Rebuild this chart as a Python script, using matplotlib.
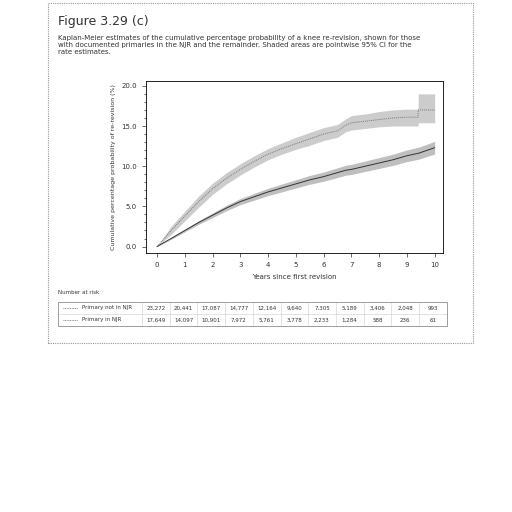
import matplotlib
matplotlib.use("Agg")
import matplotlib.pyplot as plt
from matplotlib.patches import Rectangle
import numpy as np

years = [0, 0.5, 1, 1.5, 2, 2.5, 3, 3.5, 4, 4.5, 5, 5.5, 6, 6.5, 6.8, 7, 7.5, 8, 8.5, 9, 9.4, 9.41, 10]
njr = [0, 2.0, 3.8, 5.6, 7.2, 8.5, 9.6, 10.6, 11.5, 12.2, 12.8, 13.4, 14.0, 14.4, 15.1, 15.4, 15.6, 15.8, 16.0, 16.1, 16.1, 17.0, 17.0]
njr_lo = [0, 1.5, 3.2, 4.9, 6.5, 7.8, 8.9, 9.9, 10.8, 11.5, 12.1, 12.6, 13.2, 13.6, 14.3, 14.5, 14.7, 14.9, 15.0, 15.0, 15.0, 15.4, 15.4]
njr_hi = [0, 2.5, 4.4, 6.3, 7.9, 9.2, 10.3, 11.3, 12.2, 12.9, 13.6, 14.2, 14.8, 15.2, 15.9, 16.3, 16.5, 16.8, 17.0, 17.1, 17.1, 19.0, 19.0]
other = [0, 1.0, 2.0, 3.0, 3.9, 4.8, 5.6, 6.2, 6.8, 7.3, 7.8, 8.3, 8.7, 9.2, 9.5, 9.6, 10.0, 10.4, 10.8, 11.3, 11.6, 11.6, 12.3]
other_lo = [v*0.94 - 0.05 for v in other]
other_hi = [v*1.06 + 0.05 for v in other]
other_lo[0] = other_hi[0] = 0

row_labels = ["Primary not in NJR", "Primary in NJR"]
risk_not = ["23,272", "20,441", "17,087", "14,777", "12,164", "9,640", "7,305", "5,189", "3,406", "2,048", "993"]
risk_in = ["17,649", "14,097", "10,901", "7,972", "5,761", "3,778", "2,233", "1,284", "588", "236", "61"]

W = H = 512
fig = plt.figure(figsize=(5.12, 5.12), dpi=100)
fig.patch.set_facecolor("white")
def px(x, y): return (x / W, 1 - y / H)

fig.patches.append(Rectangle(px(48, 343), 425/W, 340/H, transform=fig.transFigure,
                             fill=False, ec="#999999", lw=0.8, ls=(0, (1, 1))))
fig.text(*px(58, 22), "Figure 3.29 (c)", fontsize=9, color="#333333", va="center")
fig.text(*px(58, 45), "Kaplan-Meier estimates of the cumulative percentage probability of a knee re-revision, shown for those\n"
         "with documented primaries in the NJR and the remainder. Shaded areas are pointwise 95% CI for the\n"
         "rate estimates.", fontsize=5, color="#333333", va="center", linespacing=1.25)

ax = fig.add_axes([146/W, 1 - 253/H, 297/W, 172/H])
ax.fill_between(years, njr_lo, njr_hi, color="#c4c4c4", alpha=0.85, lw=0)
ax.fill_between(years, other_lo, other_hi, color="#b4b4b4", alpha=0.85, lw=0)
ax.plot(years, njr, color="#777777", lw=0.7, ls=(0, (1, 1)))
ax.plot(years, other, color="#333333", lw=0.7)
ax.set_xlim(-0.4, 10.3)
ax.set_ylim(-0.8, 20.6)
ax.set_xticks(range(11))
ax.set_yticks([0, 5, 10, 15, 20])
ax.set_yticklabels(["0.0", "5.0", "10.0", "15.0", "20.0"])
ax.set_yticks(np.arange(0, 20.1, 1), minor=True)
ax.tick_params(labelsize=5, length=3, width=0.5, colors="#333333")
ax.tick_params(which="minor", length=1.5, width=0.4)
for s in ax.spines.values(): s.set_linewidth(0.6)
ax.set_xlabel("Years since first revision", fontsize=5, color="#333333")
ax.set_ylabel("Cumulative percentage probability of re-revision (%)", fontsize=4.5, color="#333333")

fig.text(*px(58, 293), "Number at risk", fontsize=4, color="#333333", va="center")
tx0, tx1, ty0, ty1 = 58, 447, 302, 326
fig.patches.append(Rectangle(px(tx0, ty1), (tx1-tx0)/W, (ty1-ty0)/H, transform=fig.transFigure,
                             fill=False, ec="#777777", lw=0.5))
fig.lines.append(plt.Line2D([tx0/W, tx1/W], [1-314/H]*2, transform=fig.transFigure, color="#999999", lw=0.4, ls=(0, (1, 1))))
colx = [142] + [142 + i*27.7 for i in range(1, 11)]
for cx in colx:
    fig.lines.append(plt.Line2D([cx/W]*2, [1-ty0/H, 1-ty1/H], transform=fig.transFigure, color="#999999", lw=0.4, ls=(0, (1, 1))))
for r, (lab, vals, y) in enumerate(zip(row_labels, [risk_not, risk_in], [308, 320])):
    fig.lines.append(plt.Line2D([63/W, 78/W], [1-y/H]*2, transform=fig.transFigure, color="#666666", lw=0.6, ls=(0, (1, 1))))
    fig.text(*px(82, y), lab, fontsize=4, color="#333333", va="center")
    for i, v in enumerate(vals):
        fig.text(*px(142 + i*27.7 + 13.8, y), v, fontsize=4, color="#333333", va="center", ha="center")

fig.savefig("out.png", dpi=100)
